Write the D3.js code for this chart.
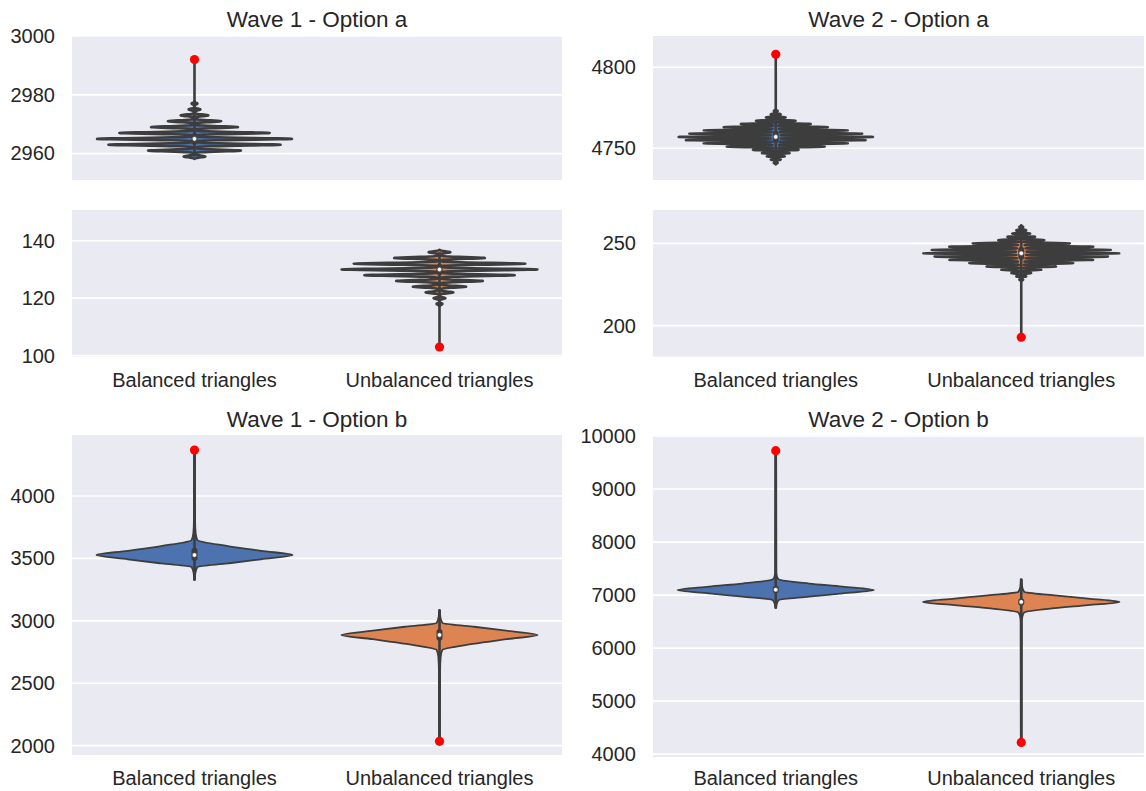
<!DOCTYPE html>
<html><head><meta charset="utf-8">
<script src="https://cdn.jsdelivr.net/npm/d3@7"></script>
<style>
body{margin:0;background:#fff}
text{font-family:"Liberation Sans",Arial,sans-serif;fill:#262626}
</style>
</head><body>
<svg id="c" width="1146" height="791"></svg>
<script>
// ---------------- DATA ----------------
const categories = ["Balanced triangles", "Unbalanced triangles"];
const titles = ["Wave 1 - Option a", "Wave 2 - Option a", "Wave 1 - Option b", "Wave 2 - Option b"];
const colors = ["#4c72b0", "#dd8452"];

// Wave 1 - Option a (discrete values, relative counts)
const w1aBalValues = [2959, 2961, 2963, 2965, 2967, 2969, 2971, 2973, 2975, 2977];
const w1aBalCounts = [11, 47, 87, 99, 76, 44, 27, 14, 6, 3];
const w1aUnbValues = [136, 134, 132, 130, 128, 126, 124, 122, 120, 118];
const w1aUnbCounts = [11, 46, 87, 99, 76, 44, 27, 14, 6, 3];
const w1aMin = [2959, 103], w1aMax = [2992, 136];
const w1aMedian = [2965, 130], w1aQ1 = [2963, 128], w1aQ3 = [2967, 132];
const w1aTopTicks = [2960, 2980, 3000], w1aBottomTicks = [100, 120, 140];

// Wave 2 - Option a
const w2aBalValues = [4741, 4743, 4745, 4747, 4749, 4751, 4753, 4755, 4757, 4759, 4761, 4763, 4765, 4767, 4769, 4771, 4773];
const w2aBalCounts = [2, 5, 9, 14, 23, 49, 72, 90, 98, 87, 72, 52, 35, 20, 10, 5, 2];
const w2aUnbValues = [260, 258, 256, 254, 252, 250, 248, 246, 244, 242, 240, 238, 236, 234, 232, 230, 228];
const w2aUnbCounts = [2, 5, 9, 14, 23, 49, 72, 90, 98, 87, 72, 52, 35, 20, 10, 5, 2];
const w2aMin = [4740, 193], w2aMax = [4808, 261];
const w2aMedian = [4757, 244], w2aQ1 = [4753, 240], w2aQ3 = [4761, 248];
const w2aTopTicks = [4750, 4800], w2aBottomTicks = [200, 250];

// Wave 1 - Option b (density profile: value, relative half-width)
const w1bBalProfileValues = [3327, 3380, 3431, 3460, 3493, 3527, 3561, 3599, 3647, 3700, 3800, 4368];
const w1bBalProfileWidths = [0.004, 0.008, 0.03, 0.34, 0.68, 1.0, 0.68, 0.34, 0.03, 0.012, 0.006, 0.004];
const w1bUnbProfileValues = [2035, 2600, 2714, 2767, 2815, 2853, 2887, 2921, 2954, 2983, 3034, 3087];
const w1bUnbProfileWidths = [0.004, 0.006, 0.012, 0.03, 0.34, 0.68, 1.0, 0.68, 0.34, 0.03, 0.008, 0.004];
const w1bMin = [3327, 2035], w1bMax = [4368, 3087];
const w1bMedian = [3527, 2887], w1bQ1 = [3480, 2840], w1bQ3 = [3585, 2935];
const w1bTicks = [2000, 2500, 3000, 3500, 4000];

// Wave 2 - Option b
const w2bBalProfileValues = [6755, 6830, 6905, 6971, 7032, 7094, 7160, 7217, 7296, 7350, 7450, 9723];
const w2bBalProfileWidths = [0.004, 0.01, 0.03, 0.34, 0.68, 1.0, 0.68, 0.34, 0.03, 0.012, 0.006, 0.004];
const w2bUnbProfileValues = [4220, 6500, 6600, 6674, 6753, 6810, 6870, 6932, 6993, 7059, 7150, 7300];
const w2bUnbProfileWidths = [0.004, 0.006, 0.012, 0.03, 0.34, 0.68, 1.0, 0.68, 0.34, 0.03, 0.01, 0.004];
const w2bMin = [6755, 4220], w2bMax = [9723, 7300];
const w2bMedian = [7100, 6870], w2bQ1 = [7030, 6800], w2bQ3 = [7180, 6940];
const w2bTicks = [4000, 5000, 6000, 7000, 8000, 9000, 10000];

// ---------------- DRAWING ----------------
const svg = d3.select("#c");
const GRAY = "#3d3d3d";
const BG = "#eaeaf2";
const FONT = '"Liberation Sans",Arial,sans-serif';
let clipId = 0;

function spikeProfile(values, counts, bw, y) {
  const maxC = d3.max(counts);
  const lo = d3.min(values) - 3 * bw, hi = d3.max(values) + 3 * bw;
  const pts = [];
  const pTop = y(hi), pBot = y(lo);
  for (let py = pTop; py <= pBot; py += 0.2) {
    const v = y.invert(py);
    let d = 0;
    for (let i = 0; i < values.length; i++) {
      const z = (v - values[i]) / bw;
      d += counts[i] / maxC * Math.exp(-0.5 * z * z);
    }
    pts.push({v: v, w: Math.min(d, 1)});
  }
  return pts;
}

function smoothProfile(values, widths) {
  return values.map((v, i) => ({v: v, w: widths[i]})).sort((a, b) => b.v - a.v);
}

function drawAxes(cfg) {
  const g = svg.append("g");
  const x = d3.scaleBand().domain(categories).range([cfg.x0, cfg.x1]);
  const y = d3.scaleLinear().domain(cfg.domain).range([cfg.y1, cfg.y0]);
  const id = "clip" + (clipId++);
  svg.append("clipPath").attr("id", id).append("rect")
    .attr("x", cfg.x0).attr("y", cfg.y0).attr("width", cfg.x1 - cfg.x0).attr("height", cfg.y1 - cfg.y0);
  g.append("rect").attr("x", cfg.x0).attr("y", cfg.y0).attr("width", cfg.x1 - cfg.x0)
    .attr("height", cfg.y1 - cfg.y0).attr("fill", BG);
  const inner = g.append("g").attr("clip-path", `url(#${id})`);
  inner.selectAll("line.grid").data(cfg.ticks).join("line")
    .attr("x1", cfg.x0).attr("x2", cfg.x1)
    .attr("y1", d => y(d)).attr("y2", d => y(d))
    .attr("stroke", "#fff").attr("stroke-width", 1.7);
  const yAxis = d3.axisLeft(y).tickValues(cfg.ticks).tickSize(0).tickPadding(17).tickFormat(d3.format("d"));
  const ya = g.append("g").attr("transform", `translate(${cfg.x0},0)`).call(yAxis);
  ya.select(".domain").remove();
  ya.selectAll("text").attr("font-size", 20).attr("fill", "#262626").attr("font-family", FONT);
  if (cfg.showX) {
    const xAxis = d3.axisBottom(x).tickSize(0).tickPadding(0);
    const xa = g.append("g").attr("transform", `translate(0,${cfg.xLabelY})`).call(xAxis);
    xa.select(".domain").remove();
    xa.selectAll("text").attr("font-size", 20).attr("fill", "#262626").attr("dy", 0).attr("font-family", FONT);
  }
  const half = x.bandwidth() * 0.4;
  cfg.violins.forEach((vd, i) => {
    const cx = x(categories[i]) + x.bandwidth() / 2;
    const spikes = vd.kind === "spikes";
    const pts = spikes ? spikeProfile(vd.values, vd.counts, vd.bw, y) : smoothProfile(vd.values, vd.widths);
    const area = d3.area()
      .y(d => y(d.v)).x0(d => cx - d.w * half).x1(d => cx + d.w * half)
      .curve(spikes ? d3.curveLinear : d3.curveMonotoneY);
    inner.append("path").datum(pts).attr("d", area)
      .attr("fill", colors[i]).attr("stroke", GRAY)
      .attr("stroke-width", spikes ? vd.lw : 1.8).attr("stroke-linejoin", "round");
    inner.append("line").attr("x1", cx).attr("x2", cx)
      .attr("y1", y(vd.min)).attr("y2", y(vd.max))
      .attr("stroke", GRAY).attr("stroke-width", 2.6);
    inner.append("rect").attr("x", cx - 3).attr("width", 6)
      .attr("y", y(vd.q3)).attr("height", Math.max(0, y(vd.q1) - y(vd.q3)))
      .attr("rx", 3).attr("fill", GRAY);
    inner.append("circle").attr("cx", cx).attr("cy", y(vd.median)).attr("r", 2.3)
      .attr("fill", "#fff").attr("stroke", GRAY).attr("stroke-width", 0.6);
    const red = i === 0 ? vd.max : vd.min;
    inner.append("circle").attr("cx", cx).attr("cy", y(red)).attr("r", 4.6).attr("fill", "#ff0000");
  });
  return {x, y};
}

function title(text, cx, by) {
  svg.append("text").attr("x", cx).attr("y", by).attr("text-anchor", "middle")
    .attr("font-size", 22.5).text(text);
}

function spikeViolins(bV, bC, uV, uC, mins, maxs, med, q1, q3, bw, lw) {
  return [
    {kind: "spikes", values: bV, counts: bC, bw: bw, lw: lw, min: mins[0], max: maxs[0], median: med[0], q1: q1[0], q3: q3[0]},
    {kind: "spikes", values: uV, counts: uC, bw: bw, lw: lw, min: mins[1], max: maxs[1], median: med[1], q1: q1[1], q3: q3[1]}
  ];
}
function smoothViolins(bV, bW, uV, uW, mins, maxs, med, q1, q3) {
  return [
    {kind: "smooth", values: bV, widths: bW, min: mins[0], max: maxs[0], median: med[0], q1: q1[0], q3: q3[0]},
    {kind: "smooth", values: uV, widths: uW, min: mins[1], max: maxs[1], median: med[1], q1: q1[1], q3: q3[1]}
  ];
}

const L = [72, 562], R = [653, 1144];

// Wave 1 - Option a
const w1aV = spikeViolins(w1aBalValues, w1aBalCounts, w1aUnbValues, w1aUnbCounts, w1aMin, w1aMax, w1aMedian, w1aQ1, w1aQ3, 0.3, 2.5);
drawAxes({x0: L[0], x1: L[1], y0: 36, y1: 180, domain: [2951, 3000], ticks: w1aTopTicks, violins: w1aV, showX: false});
drawAxes({x0: L[0], x1: L[1], y0: 210, y1: 356.5, domain: [99.7, 150.7], ticks: w1aBottomTicks, violins: w1aV, showX: true, xLabelY: 387});

// Wave 2 - Option a
const w2aV = spikeViolins(w2aBalValues, w2aBalCounts, w2aUnbValues, w2aUnbCounts, w2aMin, w2aMax, w2aMedian, w2aQ1, w2aQ3, 0.37, 2.4);
drawAxes({x0: R[0], x1: R[1], y0: 36, y1: 180, domain: [4730.4, 4819.3], ticks: w2aTopTicks, violins: w2aV, showX: false});
drawAxes({x0: R[0], x1: R[1], y0: 210, y1: 356.5, domain: [181.3, 270.3], ticks: w2aBottomTicks, violins: w2aV, showX: true, xLabelY: 387});

// Wave 1 - Option b
const w1bV = smoothViolins(w1bBalProfileValues, w1bBalProfileWidths, w1bUnbProfileValues, w1bUnbProfileWidths, w1bMin, w1bMax, w1bMedian, w1bQ1, w1bQ3);
drawAxes({x0: L[0], x1: L[1], y0: 435, y1: 755, domain: [1925.5, 4488.6], ticks: w1bTicks, violins: w1bV, showX: true, xLabelY: 785});

// Wave 2 - Option b
const w2bV = smoothViolins(w2bBalProfileValues, w2bBalProfileWidths, w2bUnbProfileValues, w2bUnbProfileWidths, w2bMin, w2bMax, w2bMedian, w2bQ1, w2bQ3);
drawAxes({x0: R[0], x1: R[1], y0: 435, y1: 757, domain: [3945, 10019], ticks: w2bTicks, violins: w2bV, showX: true, xLabelY: 785});

title(titles[0], (L[0] + L[1]) / 2, 27);
title(titles[1], (R[0] + R[1]) / 2, 27);
title(titles[2], (L[0] + L[1]) / 2, 427);
title(titles[3], (R[0] + R[1]) / 2, 427);
</script>
</body></html>
